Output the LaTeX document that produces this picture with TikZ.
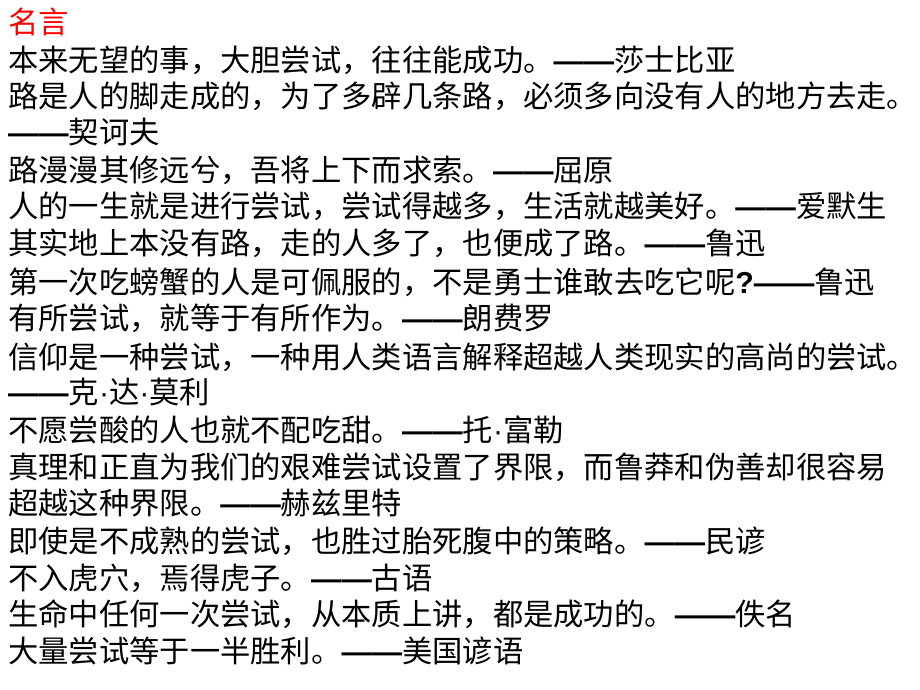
\documentclass[tikz,border=0pt]{standalone}
\usepackage{fontspec}
\setmainfont{Noto Sans CJK SC}[BoldFont={Noto Sans CJK SC Bold}]
\newfontfamily\lat{Liberation Sans}
\newcommand{\dd}{{\lat\bfseries ——}}
\newcommand{\md}{{\lat ·}}
\begin{document}
\begin{tikzpicture}[x=1pt,y=-1pt,
  q/.style={anchor=west,inner sep=0pt,font=\fontsize{30.3}{30}\selectfont}]
\useasboundingbox (0,0) rectangle (920,690);
\node[q,text=red] (t) at (8,22) {名言};
\node[q] (l1) at (8,60) {本来无望的事，大胆尝试，往往能成功。\dd 莎士比亚};
\node[q] (l2) at (8,96) {路是人的脚走成的，为了多辟几条路，必须多向没有人的地方去走。};
\node[q] (l3) at (8,132) {\dd 契诃夫};
\node[q] (l4) at (8,170) {路漫漫其修远兮，吾将上下而求索。\dd 屈原};
\node[q] (l5) at (8,206) {人的一生就是进行尝试，尝试得越多，生活就越美好。\dd 爱默生};
\node[q] (l6) at (8,243) {其实地上本没有路，走的人多了，也便成了路。\dd 鲁迅};
\node[q] (l7) at (8,282) {第一次吃螃蟹的人是可佩服的，不是勇士谁敢去吃它呢{\lat\bfseries ?}\dd 鲁迅};
\node[q] (l8) at (8,318) {有所尝试，就等于有所作为。\dd 朗费罗};
\node[q] (l9) at (8,357) {信仰是一种尝试，一种用人类语言解释超越人类现实的高尚的尝试。};
\node[q] (l10) at (8,392) {\dd 克\md 达\md 莫利};
\node[q] (l11) at (8,430) {不愿尝酸的人也就不配吃甜。\dd 托\md 富勒};
\node[q] (l12) at (8,467) {真理和正直为我们的艰难尝试设置了界限，而鲁莽和伪善却很容易};
\node[q] (l13) at (8,503) {超越这种界限。\dd 赫兹里特};
\node[q] (l14) at (8,541) {即使是不成熟的尝试，也胜过胎死腹中的策略。\dd 民谚};
\node[q] (l15) at (8,578) {不入虎穴，焉得虎子。\dd 古语};
\node[q] (l16) at (8,614) {生命中任何一次尝试，从本质上讲，都是成功的。\dd 佚名};
\node[q] (l17) at (8,651) {大量尝试等于一半胜利。\dd 美国谚语};
\end{tikzpicture}
\end{document}
